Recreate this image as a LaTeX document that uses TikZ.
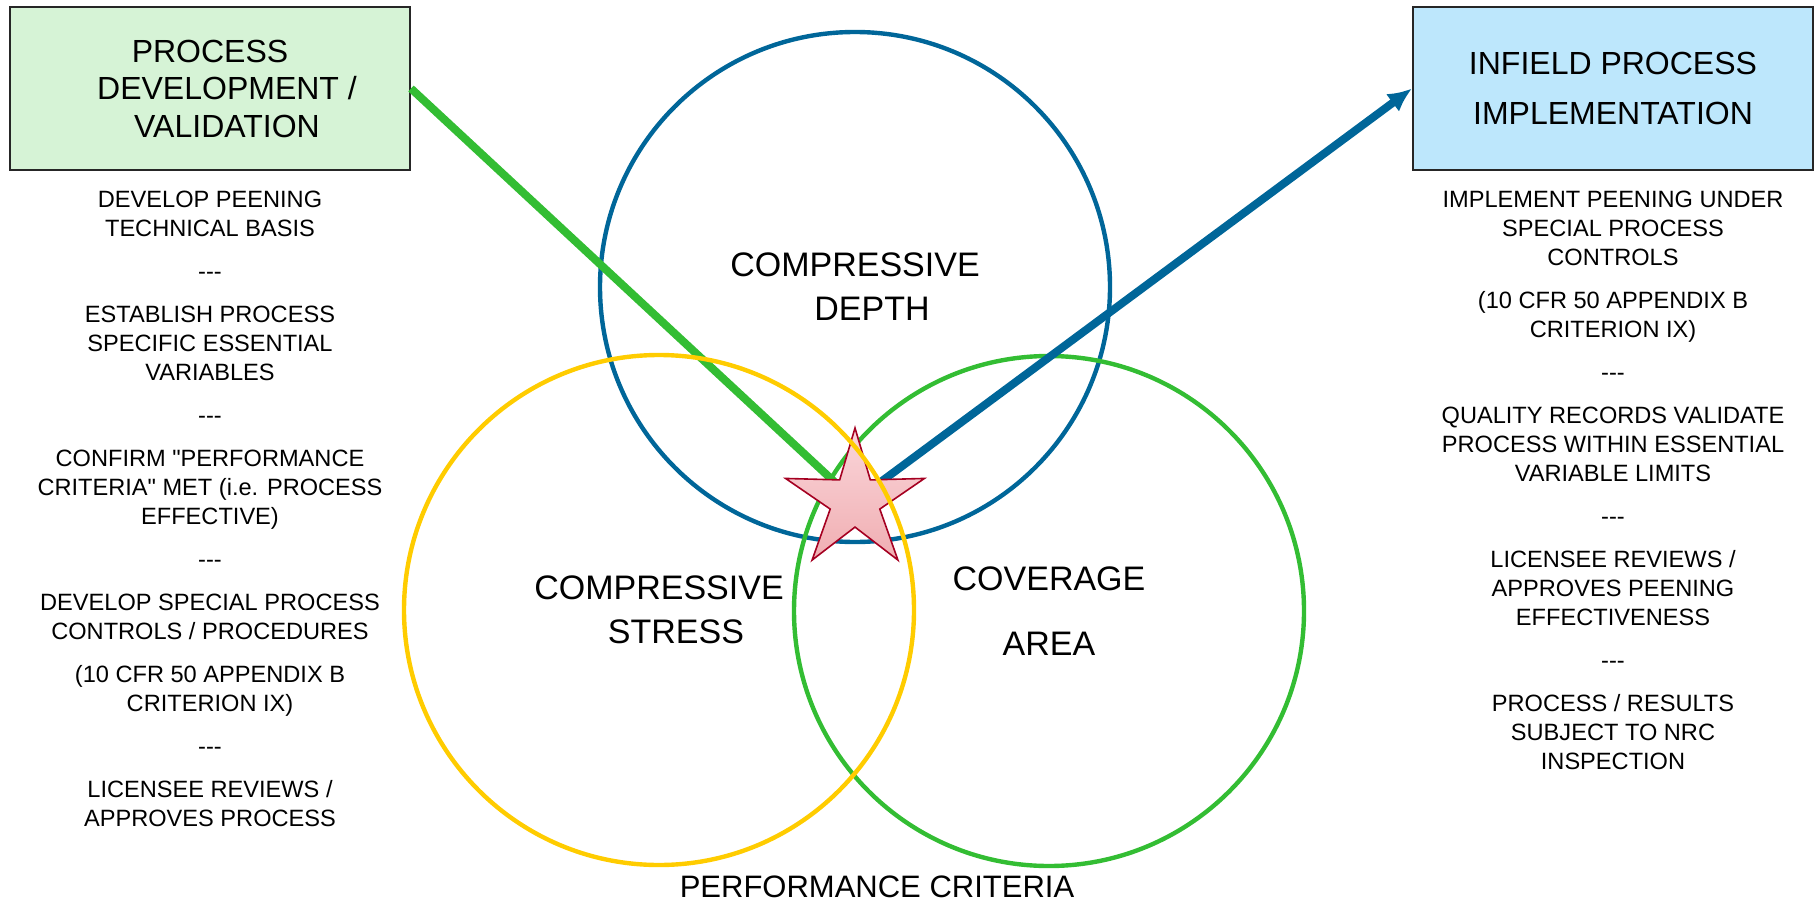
\documentclass[tikz,border=0pt]{standalone}
\usepackage{fontspec}
\setmainfont{Liberation Sans}
\usetikzlibrary{shapes.geometric,arrows.meta}
\definecolor{depthblue}{RGB}{0,102,153}
\definecolor{stressyellow}{RGB}{255,204,0}
\definecolor{covgreen}{RGB}{51,189,51}
\definecolor{devfill}{RGB}{214,243,214}
\definecolor{implfill}{RGB}{189,231,252}
\definecolor{starred}{RGB}{165,0,33}
\definecolor{startop}{RGB}{250,214,218}
\definecolor{starbottom}{RGB}{240,174,178}
\newcommand\notefont{\fontsize{11.8}{14.5}\selectfont}
\begin{document}
\begin{tikzpicture}[x=0.5pt,y=-0.5pt,
  box/.style={draw=black!85,line width=1pt,minimum width=200pt,minimum height=81.5pt,inner sep=0pt,align=center},
  ring/.style={circle,line width=2.2pt,minimum size=255pt,inner sep=0pt,align=center,font=\fontsize{17}{22}\selectfont},
  note/.style={anchor=north,inner sep=0pt,align=center,font=\notefont},
  link/.style={line width=4pt}]
  \useasboundingbox (0,0) rectangle (1814,904);

  \node[box,fill=devfill,font=\fontsize{16}{18.75}\selectfont] (devbox) at (210,88.5)
    {PROCESS\\\hspace*{17pt}DEVELOPMENT /\\\hspace*{17pt}VALIDATION};
  \node[box,fill=implfill,font=\fontsize{16}{25}\selectfont] (implbox) at (1613,88.5)
    {INFIELD PROCESS\\IMPLEMENTATION};

  \node[note] (devnotes) at (210,190.5) {DEVELOP PEENING\\TECHNICAL BASIS\\[7pt]-{}-{}-\\[7pt]ESTABLISH PROCESS\\SPECIFIC ESSENTIAL\\VARIABLES\\[7pt]-{}-{}-\\[7pt]CONFIRM \textquotedbl PERFORMANCE\\CRITERIA\textquotedbl{} MET (i.e. PROCESS\\EFFECTIVE)\\[7pt]-{}-{}-\\[7pt]DEVELOP SPECIAL PROCESS\\CONTROLS / PROCEDURES\\[7pt](10 CFR 50 APPENDIX B\\CRITERION IX)\\[7pt]-{}-{}-\\[7pt]LICENSEE REVIEWS /\\APPROVES PROCESS};
  \node[note] (implnotes) at (1613,190.5) {IMPLEMENT PEENING UNDER\\SPECIAL PROCESS\\CONTROLS\\[7pt](10 CFR 50 APPENDIX B\\CRITERION IX)\\[7pt]-{}-{}-\\[7pt]QUALITY RECORDS VALIDATE\\PROCESS WITHIN ESSENTIAL\\VARIABLE LIMITS\\[7pt]-{}-{}-\\[7pt]LICENSEE REVIEWS /\\APPROVES PEENING\\EFFECTIVENESS\\[7pt]-{}-{}-\\[7pt]PROCESS / RESULTS\\SUBJECT TO NRC\\INSPECTION};

  % the three criteria
  \node[ring,draw=depthblue] (depth) at (855,287) {COMPRESSIVE\\\hspace*{17pt}DEPTH};
  \node[ring,draw=covgreen,font=\fontsize{17}{32.5}\selectfont] (coverage) at (1049,611) {COVERAGE\\AREA};

  \coordinate (meet) at (855,501);
  \draw[link,covgreen] (devbox.east) -- (meet);
  \draw[link,depthblue,-{Latex[length=12pt,width=11pt]}] (meet) -- (implbox.west);

  \node[star,star points=5,star point ratio=2.8,minimum size=73pt,inner sep=0pt,
    draw=starred,line width=0.8pt,top color=startop,bottom color=starbottom] (star) at (meet) {};
  \node[ring,draw=stressyellow] (stress) at (659,610) {COMPRESSIVE\\\hspace*{17pt}STRESS};

  \node[anchor=base,inner sep=0pt,font=\fontsize{15.5}{18}\selectfont] (criteria) at (877,897) {PERFORMANCE CRITERIA};
\end{tikzpicture}
\end{document}
